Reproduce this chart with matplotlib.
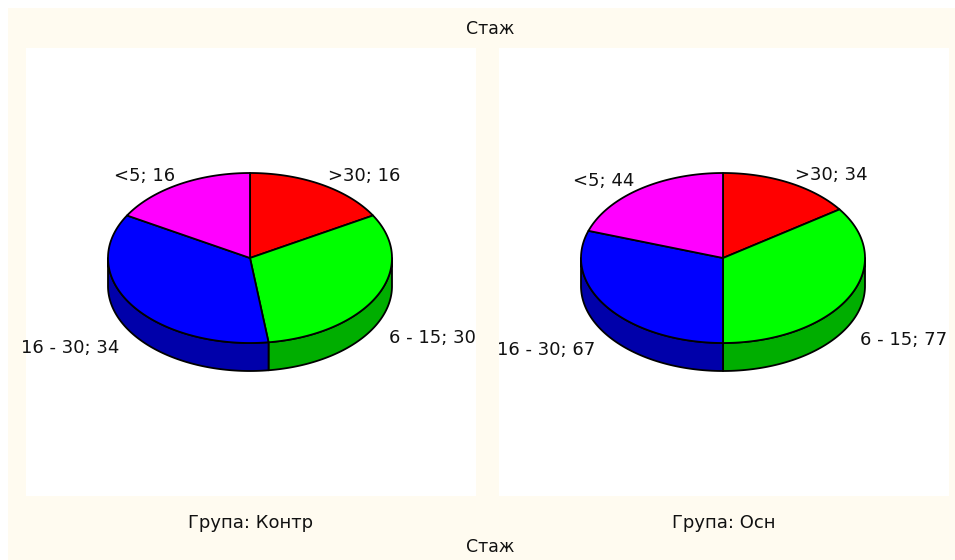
"""Two pseudo-3D pies of work experience by group."""

import matplotlib

matplotlib.use("Agg")
import matplotlib.pyplot as plt
import numpy as np

W, H = 955, 560
LABELS = [">30", "6 - 15", "16 - 30", "<5"]
KONTR = [16, 30, 34, 16]
OSN = [34, 77, 67, 44]
TOP_COLORS = ["#ff0000", "#00ff00", "#0000ff", "#ff00ff"]
SIDE_COLORS = ["#aa0000", "#00ae00", "#0000aa", "#aa00aa"]
BG = "#fffbf0"

RX, RY, DEPTH = 142, 85, 28
plt.rcParams["font.family"] = ["DejaVu Sans"]


def pie3d(ax, cx, cy, values):
    angles = np.concatenate([[0], np.cumsum(values)]) / np.sum(values) * 2 * np.pi
    # side wall first, only the front half (pi/2 .. 3pi/2 clockwise from the top)
    for i in range(len(values)):
        a0 = max(angles[i], np.pi / 2)
        a1 = min(angles[i + 1], 3 * np.pi / 2)
        if a1 <= a0:
            continue
        t = np.linspace(a0, a1, 80)
        xs = cx + RX * np.sin(t)
        ys = cy - RY * np.cos(t)
        ax.fill(np.r_[xs, xs[::-1]], np.r_[ys, ys[::-1] + DEPTH],
                fc=SIDE_COLORS[i], ec="black", lw=1.3, joinstyle="round")
    for i in range(len(values)):
        t = np.linspace(angles[i], angles[i + 1], 120)
        ax.fill(np.r_[cx, cx + RX * np.sin(t)], np.r_[cy, cy - RY * np.cos(t)],
                fc=TOP_COLORS[i], ec="black", lw=1.3, joinstyle="round")


fig = plt.figure(figsize=(W / 100, H / 100), dpi=100, facecolor="white")
ax = fig.add_axes([0, 0, 1, 1])
ax.set_xlim(0, W)
ax.set_ylim(H, 0)
ax.axis("off")

# cream sheet leaves a thin white strip along the top and left
ax.fill([8, W, W, 8], [8, 8, H, H], fc=BG, ec="none")
for x0 in (26, 499):
    ax.fill([x0, x0 + 450, x0 + 450, x0], [48, 48, 496, 496], fc="white", ec="none")

pie3d(ax, 250, 258, KONTR)
pie3d(ax, 723, 258, OSN)

FS = 13
# label anchors: left edge of the text, vertical centre
left_pos = [(328, 176), (389, 338), (21, 348), (114, 176)]
right_pos = [(795, 175), (860, 340), (497, 350), (573, 181)]
for pos, vals in ((left_pos, KONTR), (right_pos, OSN)):
    for (x, y), lab, v in zip(pos, LABELS, vals):
        ax.text(x, y, f"{lab}; {v}", ha="left", va="center", fontsize=FS, color="#111111")

ax.text(490.5, 29, "Стаж", ha="center", va="center", fontsize=12.5, color="#111111")
ax.text(490.5, 547, "Стаж", ha="center", va="center", fontsize=12.5, color="#111111")
ax.text(251, 523, "Група: Контр", ha="center", va="center", fontsize=FS, color="#111111")
ax.text(723.5, 523, "Група: Осн", ha="center", va="center", fontsize=FS, color="#111111")

fig.savefig("out.png", dpi=100, facecolor="white")
